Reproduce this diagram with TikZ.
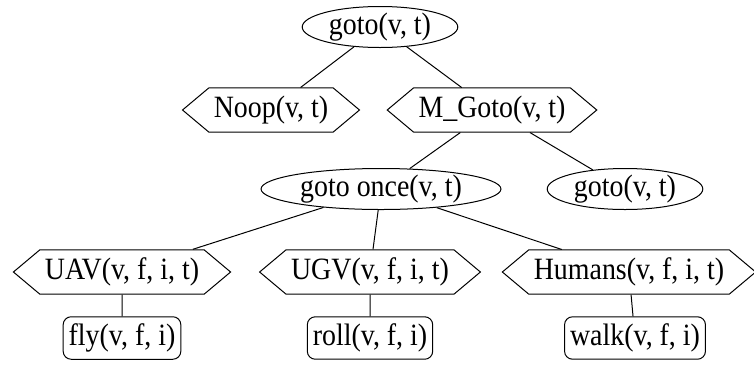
\documentclass[tikz,border=0pt]{standalone}
\usepackage{fontspec}
\setmainfont{Liberation Serif}[FakeStretch=0.9]
\usetikzlibrary{shapes.geometric,shapes.symbols}

\begin{document}
\begin{tikzpicture}[x=0.5pt,y=-0.5pt,line width=0.5pt]
        \tikzstyle{every node}=[draw,font=\fontsize{15.5}{17}\selectfont];
        \tikzstyle{task}=[ellipse,inner xsep=2pt,inner ysep=0pt,minimum height=20.5pt];
        \tikzstyle{method}=[signal,signal to=west and east,signal pointer angle=80,inner xsep=2.5pt,inner ysep=4pt];
        \tikzstyle{action}=[rectangle,rounded corners=4pt,inner xsep=2.75pt,inner ysep=3.5pt];
        \useasboundingbox (0,0) rectangle (754,381);
        % tasks
        \node[task] (goto) at (380,27) {goto(v, t)};
        \node[task] (gotoonce) at (381,189) {goto once(v, t)};
        \node[task] (gotoagain) at (625,189) {goto(v, t)};
        % methods
        \node[method] (noop) at (271,110) {Noop(v, t)};
        \node[method] (mgoto) at (492,110) {M\_Goto(v, t)};
        \node[method] (uav) at (122,272) {UAV(v, f, i, t)};
        \node[method] (ugv) at (370,272) {UGV(v, f, i, t)};
        \node[method] (humans) at (629,272) {Humans(v, f, i, t)};
        % actions
        \node[action] (fly) at (122,338) {fly(v, f, i)};
        \node[action] (roll) at (370,338) {roll(v, f, i)};
        \node[action] (walk) at (635,338) {walk(v, f, i)};
        \draw (goto) -- (noop);
        \draw (goto) -- (mgoto);
        \draw (mgoto) -- (gotoonce);
        \draw (mgoto) -- (gotoagain);
        \draw (gotoonce) -- (uav);
        \draw (gotoonce) -- (ugv);
        \draw (gotoonce) -- (humans);
        \draw (uav) -- (fly);
        \draw (ugv) -- (roll);
        \draw (humans) -- (walk);
    \end{tikzpicture}
\end{document}
